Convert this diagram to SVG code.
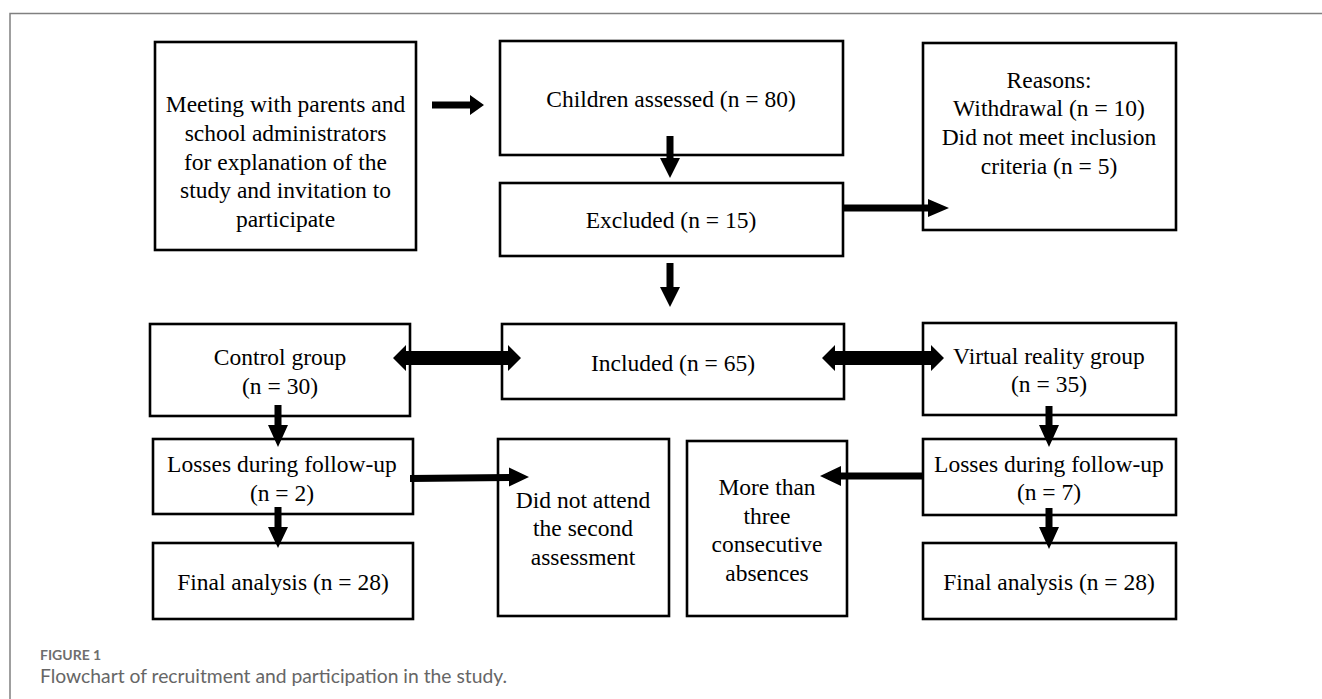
<svg xmlns="http://www.w3.org/2000/svg" width="1322" height="699" viewBox="0 0 1322 699">
<style>
.box{fill:#fff;stroke:#000;stroke-width:2.6}
.t{font-family:"Liberation Serif","Times New Roman",serif;font-size:23.5px;fill:#000;text-anchor:middle}
.arr{fill:#000;stroke:none}
.frame{stroke:#808080;stroke-width:1.5;fill:none}
.cap1{font-family:Lato,"Open Sans",sans-serif;font-weight:bold;font-size:14px;fill:#6e6e6e}
.cap2{font-family:Lato,"Open Sans",sans-serif;font-size:19.3px;fill:#666}
</style>
<rect width="1322" height="699" fill="#fff"/>
<path class="frame" d="M10,699 V13.5 H1322"/>
<g id="meeting"><rect class="box" x="155" y="42" width="261" height="208"/>
<text class="t" x="285.5" y="112">Meeting with parents and</text>
<text class="t" x="285.5" y="141">school administrators</text>
<text class="t" x="285.5" y="170">for explanation of the</text>
<text class="t" x="285.5" y="198">study and invitation to</text>
<text class="t" x="285.5" y="227">participate</text></g>
<g id="assessed"><rect class="box" x="500" y="41" width="343" height="114"/>
<text class="t" x="671" y="107">Children assessed (n = 80)</text></g>
<g id="excluded"><rect class="box" x="500" y="183" width="343" height="73"/>
<text class="t" x="671" y="228">Excluded (n = 15)</text></g>
<g id="reasons"><rect class="box" x="923" y="43" width="253" height="187"/>
<text class="t" x="1049" y="88">Reasons:</text>
<text class="t" x="1049" y="116">Withdrawal (n = 10)</text>
<text class="t" x="1049" y="145">Did not meet inclusion</text>
<text class="t" x="1049" y="174">criteria (n = 5)</text></g>
<g id="included"><rect class="box" x="502" y="324" width="342" height="75"/>
<text class="t" x="673" y="371">Included (n = 65)</text></g>
<g id="control"><rect class="box" x="150" y="324" width="260" height="92"/>
<text class="t" x="280" y="365">Control group</text>
<text class="t" x="280" y="394">(n = 30)</text></g>
<g id="vr"><rect class="box" x="923" y="323" width="253" height="92"/>
<text class="t" x="1049" y="364">Virtual reality group</text>
<text class="t" x="1049" y="392">(n = 35)</text></g>
<g id="losses-control"><rect class="box" x="153" y="439" width="260" height="75"/>
<text class="t" x="282" y="472">Losses during follow-up</text>
<text class="t" x="282" y="501">(n = 2)</text></g>
<g id="losses-vr"><rect class="box" x="923" y="439" width="253" height="76"/>
<text class="t" x="1049" y="472">Losses during follow-up</text>
<text class="t" x="1049" y="500">(n = 7)</text></g>
<g id="final-control"><rect class="box" x="153" y="543" width="260" height="76"/>
<text class="t" x="283" y="590">Final analysis (n = 28)</text></g>
<g id="final-vr"><rect class="box" x="923" y="543" width="253" height="76"/>
<text class="t" x="1049" y="590">Final analysis (n = 28)</text></g>
<g id="did-not-attend"><rect class="box" x="498" y="439" width="171" height="177"/>
<text class="t" x="583" y="508">Did not attend</text>
<text class="t" x="583" y="536">the second</text>
<text class="t" x="583" y="565">assessment</text></g>
<g id="absences"><rect class="box" x="687" y="441" width="160" height="175"/>
<text class="t" x="767" y="495">More than</text>
<text class="t" x="767" y="524">three</text>
<text class="t" x="767" y="552">consecutive</text>
<text class="t" x="767" y="581">absences</text></g>
<g id="connectors">
<path class="arr" d="M432,101.5 H470 V95 L484,105 L470,115 V108.5 H432 Z"/>
<path class="arr" d="M666.5,136 V158 H660 L670,178 L680,158 H673.5 V136 Z"/>
<path class="arr" d="M843,204.5 H928 V199 L949,208 L928,217 V211.5 H843 Z"/>
<path class="arr" d="M666.5,263 V287 H660 L670,307 L680,287 H673.5 V263 Z"/>
<path class="arr" d="M393,358 L406,345 V351 H508 V345 L521,358 L508,371 V365 H406 V371 Z"/>
<path class="arr" d="M822,358 L835,345 V351 H931 V345 L944,358 L931,371 V365 H835 V371 Z"/>
<path class="arr" d="M274.5,405 V425 H268 L278,447 L288,425 H281.5 V405 Z"/>
<path class="arr" d="M274.5,507 V527 H268 L278,548 L288,527 H281.5 V507 Z"/>
<path class="arr" d="M1045.5,406 V425 H1039 L1049,447 L1059,425 H1052.5 V406 Z"/>
<path class="arr" d="M1045.5,508 V527 H1039 L1049,549 L1059,527 H1052.5 V508 Z"/>
<path class="arr" d="M410,475 L509,474 V467.5 L529,477 L509,486.5 V481 L410,482 Z"/>
<path class="arr" d="M923,472.5 H841 V466 L820,476 L841,486 V479.5 H923 Z"/>
</g>
<text class="cap1" x="40" y="660">FIGURE 1</text>
<text class="cap2" x="40" y="683">Flowchart of recruitment and participation in the study.</text>
</svg>
